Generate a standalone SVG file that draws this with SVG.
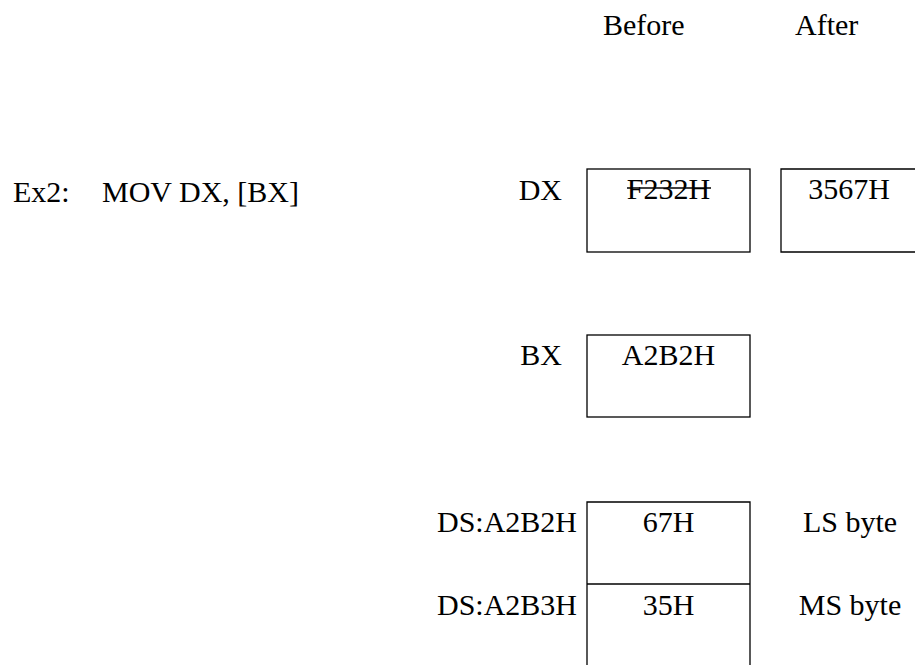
<svg xmlns="http://www.w3.org/2000/svg" width="915" height="665" viewBox="0 0 915 665">
<style>
text{font-family:"Liberation Serif","Times New Roman",serif;font-size:30px;fill:#000}
.c{text-anchor:middle}
.r{text-anchor:end}
.b{fill:none;stroke:#000;stroke-width:1.3}
</style>
<rect width="915" height="665" fill="#fff"/>
<g id="headers">
<text x="603" y="35">Before</text>
<text x="795" y="35">After</text>
</g>
<g id="instruction"><text x="13" y="202">Ex2:</text><text x="102" y="202">MOV DX, [BX]</text></g>
<g id="dx-before">
<text class="r" x="562" y="200">DX</text>
<rect class="b" x="587" y="169" width="163" height="83"/>
<text class="c" x="668.5" y="199">F232H</text>
<line class="b" x1="627" y1="188" x2="711" y2="188"/>
</g>
<g id="dx-after">
<polyline class="b" points="916,169 781,169 781,252 916,252"/>
<text class="c" x="849" y="199">3567H</text>
</g>
<g id="bx">
<text class="r" x="562" y="365">BX</text>
<rect class="b" x="587" y="335" width="163" height="82"/>
<text class="c" x="668.5" y="365">A2B2H</text>
</g>
<g id="memory">
<text class="r" x="577" y="532">DS:A2B2H</text>
<text class="r" x="577" y="615">DS:A2B3H</text>
<polyline class="b" points="587,666 587,502 750,502 750,666"/>
<line class="b" x1="587" y1="584" x2="750" y2="584"/>
<text class="c" x="668.5" y="532">67H</text>
<text class="c" x="668.5" y="615">35H</text>
<text class="c" x="850" y="532">LS byte</text>
<text class="c" x="850" y="615">MS byte</text>
</g>
<g id="connectors"/>
</svg>
